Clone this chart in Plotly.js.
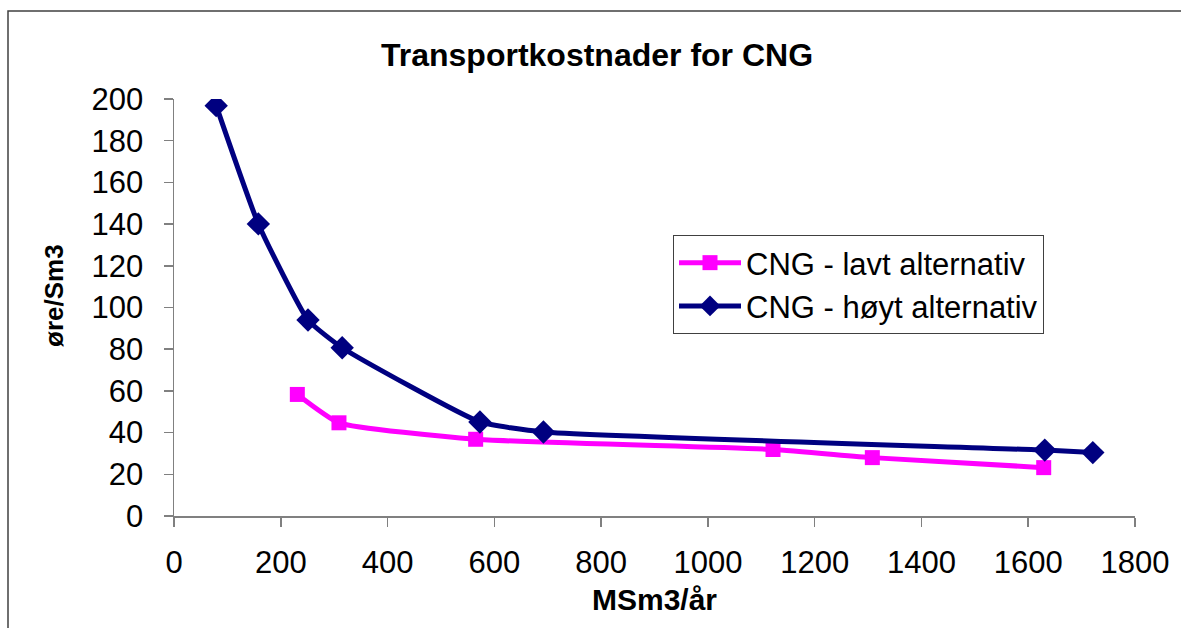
<!DOCTYPE html>
<html>
<head>
<meta charset="utf-8">
<script src="https://cdn.plot.ly/plotly-3.0.1.min.js"></script>
<style>
html,body{margin:0;padding:0;background:#fff;}
#chart{width:1181px;height:628px;}
</style>
</head>
<body>
<div id="chart"></div>
<script>
// Data
const lavtX = [231, 309, 565, 1122, 1308, 1629];
const lavtY = [58.3, 44.7, 36.8, 31.9, 28.0, 23.2];
const hoytX = [79, 158, 251, 315, 573, 692, 1631, 1721];
const hoytY = [196.8, 140.1, 94.0, 80.7, 45.1, 40.3, 31.6, 30.4];
const xTicks = [0, 200, 400, 600, 800, 1000, 1200, 1400, 1600, 1800];
const yTicks = [0, 20, 40, 60, 80, 100, 120, 140, 160, 180, 200];
const seriesNames = ["CNG - lavt alternativ", "CNG - høyt alternativ"];
const chartTitle = "Transportkostnader for CNG";
const xTitle = "MSm3/år";
const yTitle = "øre/Sm3";

const W = 1181, H = 628;
const L = 174, R = 46, T = 99, B = 112;
const pw = W - L - R, ph = H - T - B;
function px2paperX(px){ return (px - L) / pw; }
function px2paperY(py){ return (H - B - py) / ph; }

const font = "Arial, 'Liberation Sans', sans-serif";

const traces = [
  {
    x: lavtX, y: lavtY, name: seriesNames[0], type: "scatter", mode: "lines+markers",
    line: {color: "#FF00FF", width: 5, shape: "spline", smoothing: 0.45},
    marker: {symbol: "square", size: 15, color: "#FF00FF"}
  },
  {
    x: hoytX, y: hoytY, name: seriesNames[1], type: "scatter", mode: "lines+markers",
    line: {color: "#000080", width: 5, shape: "spline", smoothing: 0.45},
    marker: {symbol: "diamond", size: 18, color: "#000080"}
  }
];

const layout = {
  width: W, height: H,
  margin: {l: L, r: R, t: T, b: B, pad: 0},
  paper_bgcolor: "#fff", plot_bgcolor: "#fff",
  font: {family: font, color: "#000", size: 31},
  showlegend: true,
  title: {
    text: "<b>" + chartTitle + "</b>",
    font: {family: font, size: 32, color: "#000"},
    xref: "container", x: 597 / W, xanchor: "center",
    yref: "container", y: 1 - 55 / H, yanchor: "middle"
  },
  xaxis: {
    range: [0, 1800], tickvals: xTicks, ticktext: xTicks.map(String),
    showgrid: false, zeroline: false,
    showline: true, linecolor: "#808080", linewidth: 1.5,
    ticks: "outside", ticklen: 9, tickcolor: "#808080", tickwidth: 1.5,
    tickfont: {family: font, size: 31, color: "#000"},
    ticklabelstandoff: 9,
    title: {text: "<b>" + xTitle + "</b>", font: {family: font, size: 30, color: "#000"}, standoff: 10}
  },
  yaxis: {
    range: [0, 200], tickvals: yTicks, ticktext: yTicks.map(String),
    showgrid: false, zeroline: false,
    showline: true, linecolor: "#808080", linewidth: 1.5,
    ticks: "outside", ticklen: 9, tickcolor: "#808080", tickwidth: 1.5,
    tickfont: {family: font, size: 31, color: "#000"},
    ticklabelstandoff: 14
  },
  legend: {
    x: px2paperX(673), xanchor: "left",
    y: px2paperY(235), yanchor: "top",
    bgcolor: "#fff", bordercolor: "#404040", borderwidth: 1,
    font: {family: font, size: 31, color: "#000"},
    itemwidth: 62,
    tracegroupgap: 0
  },
  annotations: [
    {
      text: "<b>" + yTitle + "</b>", textangle: -90, showarrow: false,
      xref: "paper", yref: "paper",
      x: px2paperX(54), y: px2paperY(296),
      xanchor: "center", yanchor: "middle",
      font: {family: font, size: 26, color: "#000"}
    }
  ],
  shapes: [
    {
      type: "path", xref: "paper", yref: "paper",
      path: "M " + px2paperX(8) + "," + px2paperY(650) + " L " + px2paperX(8) + "," + px2paperY(11) +
            " L " + px2paperX(1200) + "," + px2paperY(11),
      line: {color: "#404040", width: 1.5}
    }
  ]
};

Plotly.newPlot("chart", traces, layout, {displayModeBar: false, staticPlot: true});
</script>
</body>
</html>
